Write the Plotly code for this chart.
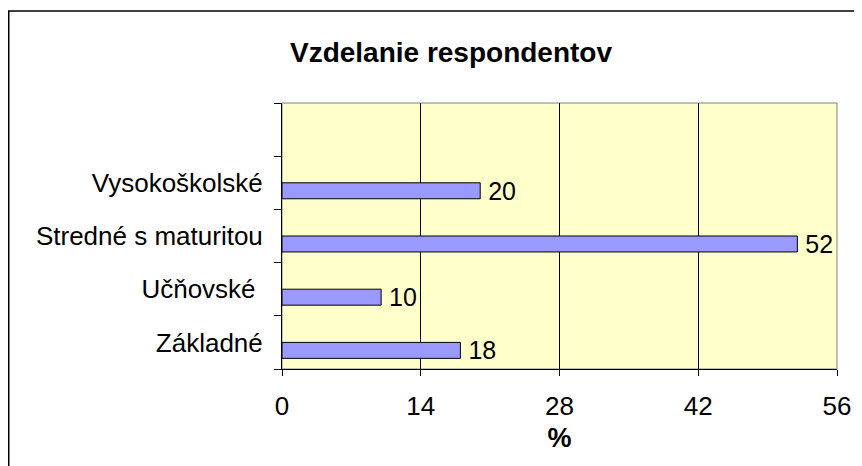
import plotly.graph_objects as go

categories = ["Základné", "Učňovské\u00a0", "Stredné s maturitou", "Vysokoškolské"]
values = [18, 10, 52, 20]
axis_categories = categories + [" "]
x_ticks = [0, 14, 28, 42, 56]
title_text = "Vzdelanie respondentov"
x_title = "%"

FONT = "Liberation Sans, Arial, sans-serif"

fig = go.Figure()
fig.add_trace(go.Bar(
    y=categories, x=values, orientation="h",
    width=0.3, offset=-0.3,
    marker=dict(color="#9999FF", line=dict(color="black", width=1)),
    text=values, texttemplate="\u2009%{x}", textposition="outside",
    constraintext="none",
    textfont=dict(family=FONT, size=25, color="black"),
    cliponaxis=False, showlegend=False, hoverinfo="skip",
))

W, H = 854, 458
L, R, T, B = 274, 25, 95, 97
pw, ph = W - L - R, H - T - B

def px_x(v):
    return (v - L) / pw

def px_y(v):
    return (H - B - v) / ph

fig.update_layout(
    width=W, height=H,
    margin=dict(l=L, r=R, t=T, b=B, pad=0),
    paper_bgcolor="white", plot_bgcolor="#FFFFCC",
    font=dict(family=FONT, size=26, color="black"),
    title=dict(text="<b>" + title_text + "</b>", x=443 / W, xanchor="center",
               y=1 - 44 / H, yanchor="middle",
               font=dict(family=FONT, size=28, color="black")),
    xaxis=dict(range=[0, 56], tickvals=x_ticks, ticks="outside", ticklen=6,
               tickcolor="black", showgrid=True, gridcolor="black", gridwidth=1,
               zeroline=False, showline=True, linecolor="black", linewidth=1,
               tickfont=dict(family=FONT, size=26), ticklabelstandoff=8,
               title=dict(text="<b>" + x_title + "</b>", standoff=7,
                          font=dict(family=FONT, size=27))),
    yaxis=dict(type="category", categoryorder="array", categoryarray=axis_categories,
               range=[-0.5, 4.5], tickson="boundaries", ticks="outside", ticklen=7,
               tickcolor="black", showgrid=False, zeroline=False, showline=True,
               linecolor="black", linewidth=1, ticklabelstandoff=13,
               tickfont=dict(family=FONT, size=26)),
    shapes=[
        dict(type="rect", xref="paper", yref="paper", x0=0, x1=1, y0=0, y1=1,
             line=dict(color="#808080", width=1), layer="below"),
        dict(type="rect", xref="paper", yref="paper", x0=px_x(0.75), x1=px_x(880),
             y0=px_y(490), y1=px_y(3), line=dict(color="black", width=1.5),
             layer="above"),
    ],
)

fig.write_html("out.html")
